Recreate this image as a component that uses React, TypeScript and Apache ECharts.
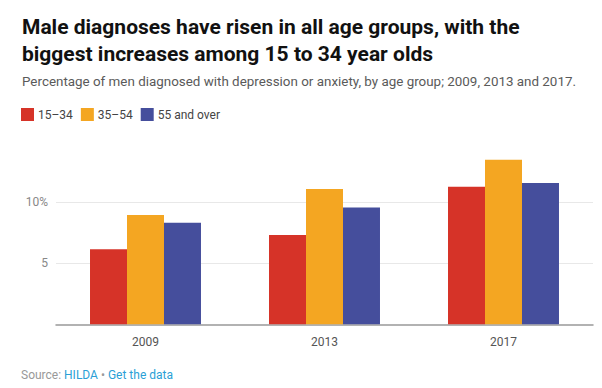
import React, { useEffect, useRef } from "react";
import * as echarts from "echarts";

const years = ["2009", "2013", "2017"];
const seriesNames = ["15–34", "35–54", "55 and over"];
const age15to34 = [6.15, 7.3, 11.25];
const age35to54 = [8.95, 11.07, 13.47];
const age55plus = [8.3, 9.55, 11.56];
const colors = ["#d63328", "#f4a622", "#454e9c"];

export default function App() {
  const ref = useRef<HTMLDivElement>(null);
  useEffect(() => {
    if (!ref.current) return;
    const chart = echarts.init(ref.current, undefined, { renderer: "svg" });
    const font = "Roboto, 'Noto Sans', sans-serif";
    const values = [age15to34, age35to54, age55plus];
    chart.setOption({
      animation: false,
      textStyle: { fontFamily: font },
      title: [
        {
          text: "Male diagnoses have risen in all age groups, with the\nbiggest increases among 15 to 34 year olds",
          left: 22,
          top: 13,
          padding: 0,
          textStyle: { fontSize: 21, fontWeight: "bold", color: "#111", lineHeight: 27, fontFamily: font },
        },
        {
          text: "Percentage of men diagnosed with depression or anxiety, by age group; 2009, 2013 and 2017.",
          left: 22,
          top: 72,
          padding: 0,
          textStyle: { fontSize: 13.4, fontWeight: "normal", color: "#5a5a5a", lineHeight: 18, fontFamily: font },
        },
        {
          text: "{s|Source: }{l|HILDA}{s| • }{l|Get the data}",
          left: 21,
          top: 369,
          padding: 0,
          textStyle: {
            fontFamily: font,
            fontWeight: "normal",
            rich: {
              s: { fontSize: 12, color: "#999", fontFamily: font, fontWeight: "normal" },
              l: { fontSize: 12, color: "#2a9fd6", fontFamily: font, fontWeight: "normal" },
            },
          },
        },
      ],
      legend: {
        left: 21,
        top: 108,
        padding: 0,
        icon: "rect",
        itemWidth: 13,
        itemHeight: 13,
        itemGap: 8,
        textStyle: { fontSize: 12, color: "#444", fontFamily: font, padding: [0, 0, 0, -1] },
        data: seriesNames,
      },
      grid: { left: 56, right: 9, top: 141, bottom: 63.7 },
      xAxis: {
        type: "category",
        data: years,
        axisTick: { show: false },
        axisLine: { lineStyle: { color: "#999", width: 1.5 } },
        axisLabel: { fontSize: 12, color: "#555", margin: 12, fontFamily: font },
      },
      yAxis: {
        type: "value",
        min: 0,
        max: 15,
        interval: 5,
        axisLine: { show: false },
        axisTick: { show: false },
        axisLabel: {
          fontSize: 12,
          color: "#888",
          margin: 8,
          fontFamily: font,
          showMinLabel: false,
          showMaxLabel: false,
          formatter: (v: number) => (v === 10 ? "10%" : v === 5 ? "5" : ""),
        },
        splitLine: { show: true, showMinLine: false, showMaxLine: false, lineStyle: { color: "#e8e8e8", width: 1 } },
      },
      series: seriesNames.map((name, i) => ({
        name,
        type: "bar",
        data: values[i],
        barGap: "0%",
        barCategoryGap: "38%",
        itemStyle: { color: colors[i] },
      })),
    });
    return () => chart.dispose();
  }, []);
  return <div ref={ref} style={{ width: 602, height: 388, position: "absolute", left: 0, top: 0, background: "#fff" }} />;
}
